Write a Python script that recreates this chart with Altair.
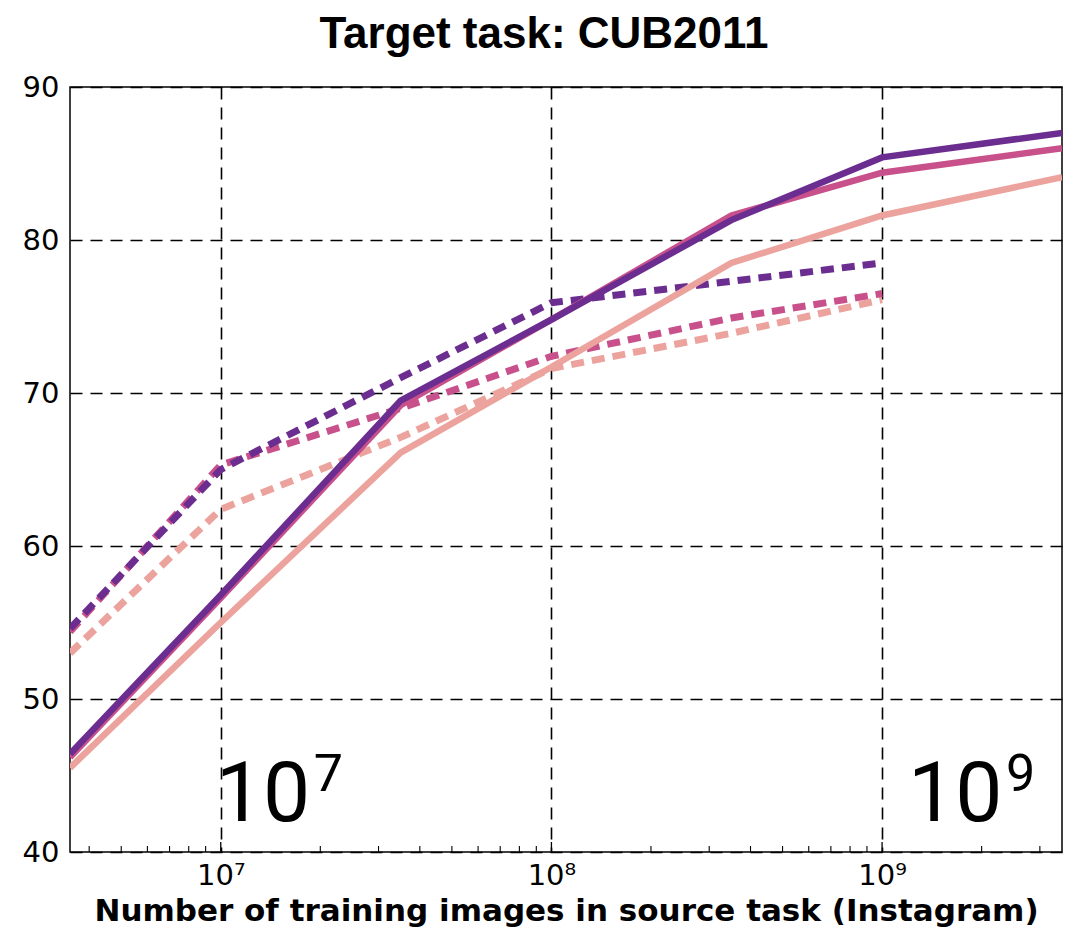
import altair as alt
import pandas as pd

# ---------------- data ----------------
x_solid = [3.5e6, 1e7, 3.5e7, 1e8, 3.5e8, 1e9, 3.5e9]
x_dashed = [3.5e6, 1e7, 3.5e7, 1e8, 3.5e8, 1e9]

series_names = ["light", "magenta", "purple"]
series_colors = ["#eca39d", "#c8518b", "#6c2d91"]

solid_light = [45.5, 55.0, 66.1, 71.7, 78.5, 81.6, 84.1]
solid_magenta = [46.2, 56.6, 69.2, 74.8, 81.6, 84.4, 86.0]
solid_purple = [46.4, 56.8, 69.5, 74.8, 81.3, 85.4, 87.0]

dashed_light = [53.0, 62.4, 67.1, 71.6, 73.9, 76.1]
dashed_magenta = [54.4, 65.3, 69.0, 72.4, 74.9, 76.5]
dashed_purple = [54.6, 65.0, 71.0, 75.9, 77.3, 78.5]

major_ticks = [1e7, 1e8, 1e9]
minor_ticks = [4e6, 5e6, 6e6, 7e6, 8e6, 9e6,
               2e7, 3e7, 4e7, 5e7, 6e7, 7e7, 8e7, 9e7,
               2e8, 3e8, 4e8, 5e8, 6e8, 7e8, 8e8, 9e8,
               2e9, 3e9]
y_ticks = [40, 50, 60, 70, 80, 90]

ann_base = ["10", "10"]
ann_sup = ["7", "9"]
ann_x = [1e7, 1.24e9]
ann_y = [42, 42]

# ---------------- tables ----------------
rows = []
for name, vals in zip(series_names, [solid_light, solid_magenta, solid_purple]):
    for i, (x, y) in enumerate(zip(x_solid, vals)):
        rows.append({"x": x, "y": y, "series": name, "i": i})
solid_df = pd.DataFrame(rows)

rows = []
for name, vals in zip(series_names, [dashed_light, dashed_magenta, dashed_purple]):
    for i, (x, y) in enumerate(zip(x_dashed, vals)):
        rows.append({"x": x, "y": y, "series": name, "i": i})
dashed_df = pd.DataFrame(rows)

major_df = pd.DataFrame({"t": major_ticks})
minor_df = pd.DataFrame({"t": minor_ticks})
ann_df = pd.DataFrame({"x": ann_x, "y": ann_y, "base": ann_base, "sup": ann_sup})

W, H = 992, 765

xscale = alt.Scale(type="log", domain=[3.5e6, 3.5e9], nice=False)
yscale = alt.Scale(domain=[40, 90], nice=False)
cscale = alt.Scale(domain=series_names, range=series_colors)

xaxis = alt.Axis(
    values=major_ticks,
    labelExpr="'10' + ['⁷','⁸','⁹'][round(log(datum.value)/LN10) - 7]",
    grid=True, gridDash=[12, 8], gridColor="black", gridWidth=1.6, gridOpacity=1,
    ticks=False, domain=False,
    labelFont="DejaVu Sans", labelFontSize=29, labelColor="black", labelPadding=9,
    title="Number of training images in source task (Instagram)",
    titleFont="DejaVu Sans", titleFontWeight="bold", titleFontSize=31,
    titleColor="black", titlePadding=6,
)
yaxis = alt.Axis(
    values=y_ticks,
    grid=True, gridDash=[12, 8], gridColor="black", gridWidth=1.6, gridOpacity=1,
    ticks=False, domain=False,
    labelFont="DejaVu Sans", labelFontSize=29, labelColor="black", labelPadding=11,
    title=None,
)

dashed = alt.Chart(dashed_df).mark_line(strokeWidth=7, strokeDash=[13, 8], strokeCap="butt", clip=True).encode(
    x=alt.X("x:Q", scale=xscale, axis=xaxis),
    y=alt.Y("y:Q", scale=yscale, axis=yaxis),
    color=alt.Color("series:N", scale=cscale, legend=None),
    detail="series:N",
    order="i:Q",
)

solid = alt.Chart(solid_df).mark_line(strokeWidth=6.5, clip=True).encode(
    x=alt.X("x:Q", scale=xscale),
    y=alt.Y("y:Q", scale=yscale),
    color=alt.Color("series:N", scale=cscale, legend=None),
    detail="series:N",
    order="i:Q",
)

major_rules = alt.Chart(major_df).mark_rule(color="black", strokeWidth=1.3).encode(
    x=alt.X("t:Q", scale=xscale),
    y=alt.value(H), y2=alt.value(H - 10),
)
minor_rules = alt.Chart(minor_df).mark_rule(color="black", strokeWidth=1.1).encode(
    x=alt.X("t:Q", scale=xscale),
    y=alt.value(H), y2=alt.value(H - 6),
)

ann_main = alt.Chart(ann_df).mark_text(
    align="left", baseline="alphabetic", font="Roboto", fontSize=84, dx=-5, color="black"
).encode(
    x=alt.X("x:Q", scale=xscale), y=alt.Y("y:Q", scale=yscale), text="base:N"
)
ann_sup_layer = alt.Chart(ann_df).mark_text(
    align="left", baseline="alphabetic", font="Roboto", fontSize=52, dx=93, dy=-30, color="black"
).encode(
    x=alt.X("x:Q", scale=xscale), y=alt.Y("y:Q", scale=yscale), text="sup:N"
)

chart = alt.layer(
    dashed, solid, minor_rules, major_rules, ann_main, ann_sup_layer
).properties(
    width=W, height=H,
    title=alt.TitleParams(
        "Target task: CUB2011", font="Liberation Sans", fontWeight="bold", fontSize=44,
        color="black", anchor="middle", frame="group", baseline="alphabetic", offset=17,
        dx=-22, dy=36,
    ),
    padding={"left": 62, "top": 79, "right": 4, "bottom": 78},
    autosize=alt.AutoSizeParams(type="none"),
).configure_view(
    stroke="black", strokeWidth=1.5
)

chart.save("out.html", embed_options={"renderer": "svg", "actions": False})
